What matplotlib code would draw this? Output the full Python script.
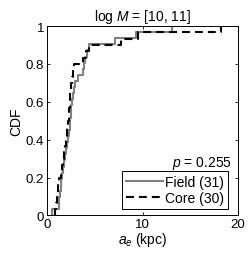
import matplotlib
matplotlib.use("Agg")
import matplotlib.pyplot as plt
import numpy as np

plt.rcParams['font.family'] = ['Liberation Sans', 'DejaVu Sans']
plt.rcParams['mathtext.fontset'] = 'custom'
plt.rcParams['mathtext.it'] = 'Liberation Sans:italic'
plt.rcParams['mathtext.rm'] = 'Liberation Sans'

# effective radii a_e (kpc), sorted
field = [0.55, 1.2, 1.3, 1.4, 1.45, 1.5, 1.6, 1.7, 1.8, 1.9, 2.0, 2.1, 2.2,
         2.3, 2.35, 2.4, 2.5, 2.55, 2.6, 2.7, 2.8, 2.9, 3.2, 3.8, 3.9, 4.0,
         4.2, 4.4, 7.15, 9.3, 13.1]
core = [0.8, 0.9, 1.0, 1.1, 1.15, 1.2, 1.5, 1.6, 1.7, 1.8, 1.9, 2.0, 2.05,
        2.1, 2.2, 2.25, 2.3, 2.35, 2.4, 2.45, 2.5, 2.6, 2.7, 2.8, 3.8, 4.1,
        4.4, 7.7, 9.5, 18.2]
p_value = 0.255
title = 'log $M$ = [10, 11]'


def ecdf(vals):
    x = np.sort(np.asarray(vals))
    y = np.arange(1, len(x) + 1) / len(x)
    # start from zero at the first value
    return np.concatenate([[x[0]], x]), np.concatenate([[0], y])


fig = plt.figure(figsize=(2.49, 2.55), dpi=100)
ax = fig.add_axes([0.189, 0.151, 0.767, 0.743])

xf, yf = ecdf(field)
xc, yc = ecdf(core)
ax.step(xf, yf, where='post', color='#808080', lw=1.5, label='Field (%d)' % len(field))
ax.step(xc, yc, where='post', color='k', lw=1.5, ls=(0, (3.8, 2.4)), label='Core (%d)' % len(core))

ax.set_xlim(0, 20)
ax.set_ylim(0, 1)
ax.set_xticks([0, 10, 20])
ax.set_yticks([0, 0.2, 0.4, 0.6, 0.8, 1])
ax.set_yticklabels(['0', '0.2', '0.4', '0.6', '0.8', '1'])
ax.tick_params(direction='in', length=2.5, width=0.6, top=True, right=True,
               labelsize=9.5, pad=2)
for s in ax.spines.values():
    s.set_linewidth(0.7)

ax.set_xlabel('$a_e$ (kpc)', fontsize=10, labelpad=0)
ax.set_ylabel('CDF', fontsize=10, labelpad=2)
ax.set_title(title, fontsize=10, pad=4)

ax.text(0.966, 0.26, '$p$ = %.3f' % p_value, transform=ax.transAxes,
        ha='right', va='baseline', fontsize=10)
leg = ax.legend(loc='lower right', bbox_to_anchor=(0.95, 0.032), borderaxespad=0,
                fontsize=10, handlelength=2.6, handletextpad=0.2,
                borderpad=0.3, labelspacing=0.15,
                fancybox=False, framealpha=1, edgecolor='k')
leg.get_frame().set_linewidth(0.7)

fig.savefig('out.png', dpi=100)
